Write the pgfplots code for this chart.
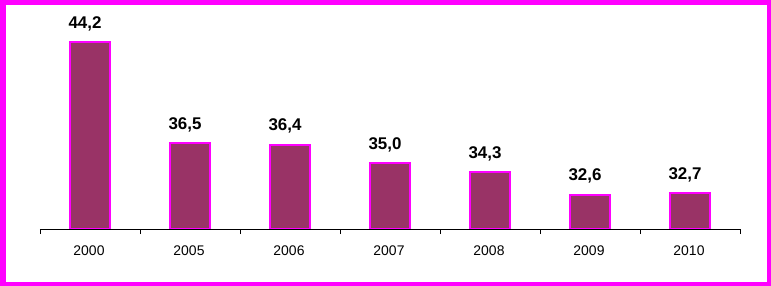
\documentclass[border=0pt]{standalone}
\usepackage{pgfplots}
\pgfplotsset{compat=1.18}
\usepackage{fontspec}
\setmainfont{Liberation Sans}
\definecolor{barfill}{HTML}{993366}
\definecolor{barline}{HTML}{FF00FF}
\begin{document}
\begin{tikzpicture}
\begin{axis}[
  at={(0,0)}, anchor=south west,
  scale only axis,
  width=700bp, height=219bp,
  ybar, bar width=40bp,
  xmin=-0.5, xmax=6.5,
  ymin=30, ymax=46.63,
  axis x line*=bottom,
  axis y line=none,
  axis line style={black, line width=0.8bp, -},
  xtick={0,...,6},
  xticklabels={2000,2005,2006,2007,2008,2009,2010},
  major x tick style={draw=none},
  minor xtick={-0.5,0.5,...,6.5},
  minor tick length=5bp,
  tick align=outside,
  minor x tick style={black, line width=0.8bp},
  xticklabel style={font=\fontsize{14}{14}\selectfont, yshift=-9bp, xshift=-1bp},
  /pgf/number format/assume math mode=true,
  nodes near coords,
  nodes near coords style={font=\fontsize{17}{17}\selectfont\bfseries, anchor=base, inner sep=0pt, yshift=14bp, xshift=-5bp,
    /pgf/number format/.cd, fixed, fixed zerofill, precision=1, use comma},
]
\addplot[fill=barfill, draw=barline, line width=2bp] coordinates {
  (0,44.2) (1,36.5) (2,36.4) (3,35.0) (4,34.3) (5,32.6) (6,32.7)
};
\end{axis}
\fill[barline, even odd rule] (-40bp,-57bp) rectangle (731bp,229bp)
  (-34bp,-53bp) rectangle (727bp,224bp);
\pgfresetboundingbox
\path[use as bounding box] (-40bp,-57bp) rectangle (731bp,229bp);
\end{tikzpicture}
\end{document}
